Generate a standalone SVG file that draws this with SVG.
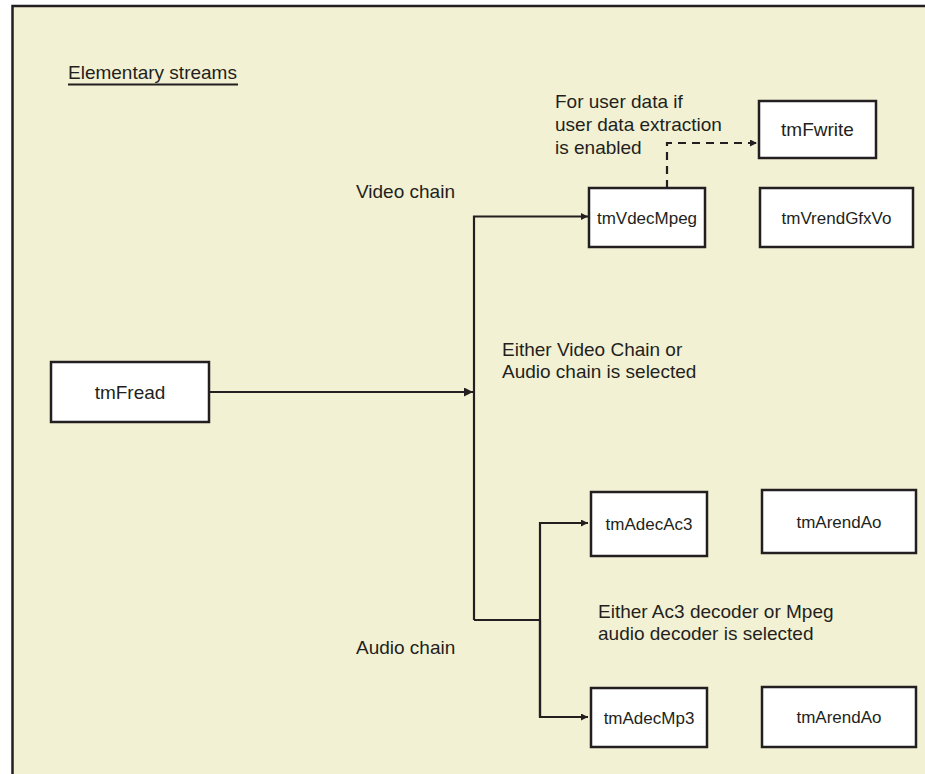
<svg xmlns="http://www.w3.org/2000/svg" width="925" height="774" viewBox="0 0 925 774">
<defs>
<style>
.bg{fill:#F3F1D3;stroke:#231F20;stroke-width:2.5}
.box{fill:#FFFFFF;stroke:#231F20;stroke-width:2.5}
.t{font-family:"Liberation Sans",Arial,sans-serif;fill:#231F20;font-size:19px}
.bl{font-family:"Liberation Sans",Arial,sans-serif;fill:#231F20;font-size:17px;text-anchor:middle}
.bl2{font-family:"Liberation Sans",Arial,sans-serif;fill:#231F20;font-size:19px;text-anchor:middle}
.ln{fill:none;stroke:#231F20;stroke-width:2.2}
.dash{fill:none;stroke:#231F20;stroke-width:2.2;stroke-dasharray:8 6}
</style>
<marker id="ah" viewBox="0 0 10 10" refX="10" refY="5" markerUnits="userSpaceOnUse" markerWidth="8" markerHeight="7" orient="auto">
<path d="M0,0 L10,5 L0,10 z" fill="#231F20"/>
</marker>
<marker id="ahb" viewBox="0 0 10 10" refX="10" refY="5" markerUnits="userSpaceOnUse" markerWidth="15" markerHeight="9" orient="auto">
<path d="M0,0 L10,5 L0,10 z" fill="#231F20"/>
</marker>
</defs>
<rect width="925" height="774" fill="#FFFFFF"/>
<rect class="bg" x="12.5" y="6" width="940" height="800"/>

<g id="labels">
<text class="t" x="68" y="79">Elementary streams</text>
<line x1="68" y1="84.5" x2="238" y2="84.5" stroke="#231F20" stroke-width="2.2"/>
<text class="t" x="356" y="198">Video chain</text>
<text class="t" x="555" y="108">For user data if</text>
<text class="t" x="555" y="131">user data extraction</text>
<text class="t" x="555" y="154">is enabled</text>
<text class="t" x="502" y="356">Either Video Chain or</text>
<text class="t" x="502" y="378">Audio chain is selected</text>
<text class="t" x="598" y="618">Either Ac3 decoder or Mpeg</text>
<text class="t" x="598" y="640">audio decoder is selected</text>
<text class="t" x="356" y="654">Audio chain</text>
</g>

<g id="connectors">
<line class="ln" x1="209" y1="392" x2="473" y2="392" marker-end="url(#ahb)"/>
<polyline class="ln" points="474,620 474,216.5 588,216.5" marker-end="url(#ah)"/>
<polyline class="ln" points="474,620 540,620"/>
<polyline class="ln" points="540,717 540,523 588,523" marker-end="url(#ah)"/>
<polyline class="ln" points="540,620 540,717 588,717" marker-end="url(#ah)"/>
<polyline class="dash" points="667,188 667,143 757,143" marker-end="url(#ah)"/>
</g>

<g id="tmFread">
<rect class="box" x="51" y="362" width="158" height="60"/>
<text class="bl2" x="130" y="399">tmFread</text>
</g>
<g id="tmVdecMpeg">
<rect class="box" x="589" y="188" width="116" height="59"/>
<text class="bl" x="647" y="223.5">tmVdecMpeg</text>
</g>
<g id="tmFwrite">
<rect class="box" x="759" y="101" width="117" height="57"/>
<text class="bl2" x="817.5" y="136">tmFwrite</text>
</g>
<g id="tmVrendGfxVo">
<rect class="box" x="760" y="188" width="153" height="59"/>
<text class="bl" x="836.5" y="223.5">tmVrendGfxVo</text>
</g>
<g id="tmAdecAc3">
<rect class="box" x="591" y="492" width="116" height="64"/>
<text class="bl" x="649" y="530">tmAdecAc3</text>
</g>
<g id="tmArendAo1">
<rect class="box" x="762" y="490" width="154" height="63"/>
<text class="bl" x="839" y="528">tmArendAo</text>
</g>
<g id="tmAdecMp3">
<rect class="box" x="591" y="688" width="116" height="59"/>
<text class="bl" x="649" y="723.5">tmAdecMp3</text>
</g>
<g id="tmArendAo2">
<rect class="box" x="762" y="687" width="154" height="60"/>
<text class="bl" x="839" y="723">tmArendAo</text>
</g>
</svg>
